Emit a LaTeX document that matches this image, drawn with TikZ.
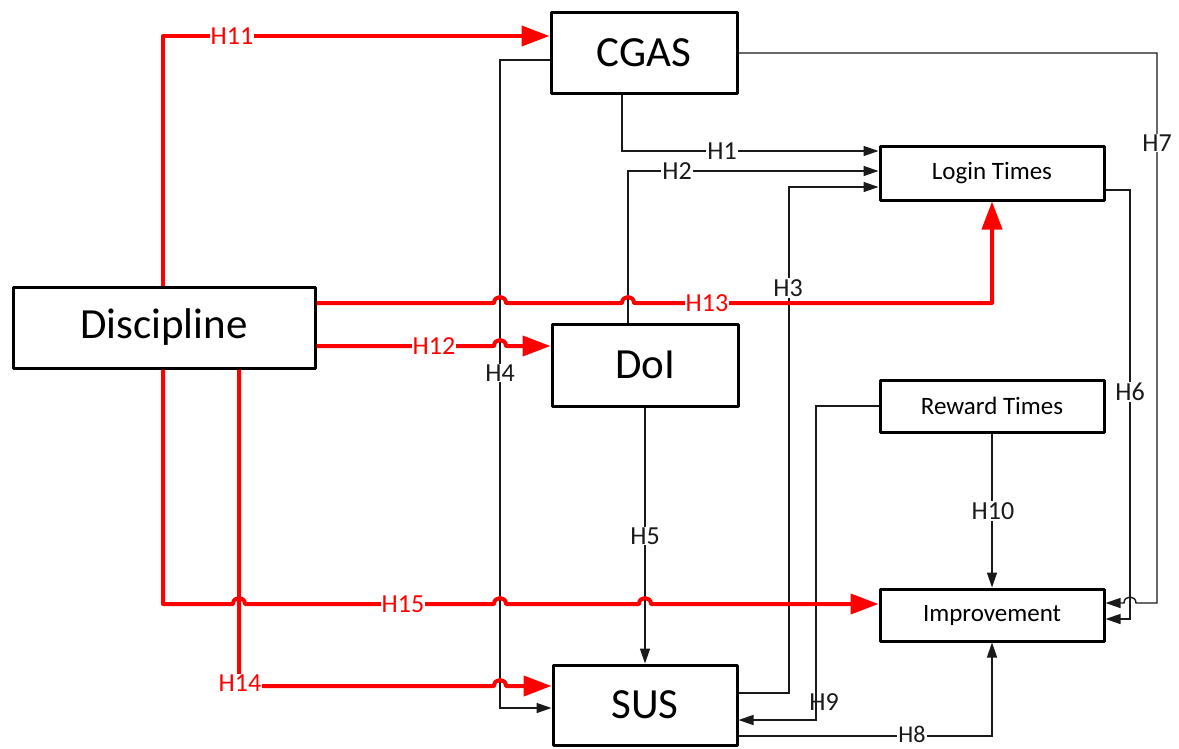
\documentclass[tikz,border=0pt]{standalone}
\usepackage{fontspec}
\setmainfont{Carlito}
\usetikzlibrary{arrows.meta}
\definecolor{lnk}{HTML}{1A1A1A}
\tikzset{
  box/.style={draw=black, line width=3pt, fill=white, rectangle, inner sep=0pt, line join=round},
  bigbox/.style={box, font=\fontsize{43}{50}\selectfont},
  smallbox/.style={box, font=\fontsize{25}{30}\selectfont},
  blk/.style={draw=lnk, line width=1.4pt, -{Triangle[length=15pt,width=10pt]}},
  redl/.style={draw=red, line width=4pt, line join=round, -{Triangle[length=28pt,width=20pt]}},
  lab/.style={font=\fontsize{26}{30}\selectfont, text=lnk, fill=white, inner sep=1pt},
  rlab/.style={font=\fontsize{26}{30}\selectfont, text=red, fill=white, inner sep=1pt},
}
\begin{document}
\begin{tikzpicture}[x=1pt, y=-1pt]
\useasboundingbox[fill=white] (0,0) rectangle (1179,748);
% nodes
\node[bigbox, minimum width=302pt, minimum height=81pt] (disc) at (164,327.5) {Discipline};
\node[bigbox, minimum width=186pt, minimum height=81pt] (cgas) at (644,52.5) {CGAS};
\node[bigbox, minimum width=186pt, minimum height=82pt] (doi) at (645,365) {DoI};
\node[bigbox, minimum width=184pt, minimum height=80pt] (sus) at (645,705) {SUS};
\node[smallbox, minimum width=224pt, minimum height=54pt] (login) at (992,173) {Login Times};
\node[smallbox, minimum width=224pt, minimum height=52pt] (reward) at (992,406) {Reward Times};
\node[smallbox, minimum width=224pt, minimum height=52pt] (impr) at (992,615) {Improvement};

% black connectors
\draw[blk] (cgas.south -| 622,0) |- (login.west |- 0,151);
\draw[blk] (doi.north -| 628,0) |- (login.west |- 0,171);
\draw[blk] (sus.east |- 0,693) -- (789,693) |- (login.west |- 0,187);
\draw[blk] (cgas.west |- 0,60) -- (500,60) |- (sus.west |- 0,708);
\draw[blk] (doi.south) -- (sus.north);
\draw[blk] (login.east |- 0,190) -- (1130,190) |- (impr.east |- 0,619);
\draw[blk] (cgas.east |- 0,53) -- (1157,53) -- (1157,603) -- (1136,603)
   .. controls (1136,595) and (1124,595) .. (1124,603) -- (impr.east |- 0,603);
\draw[blk] (sus.east |- 0,736) -| (impr.south);
\draw[blk] (reward.west) -- (816,406) |- (sus.east |- 0,720);
\draw[blk] (reward.south) -- (impr.north);

% red connectors
\draw[redl] (disc.north -| 163,0) |- (cgas.west |- 0,36);
\draw[redl] (disc.east |- 0,346) -- (494,346)
   .. controls (494,338) and (506,338) .. (506,346) -- (doi.west |- 0,346);
\draw[redl] (disc.east |- 0,303) -- (494,303)
   .. controls (494,295) and (506,295) .. (506,303) -- (622,303)
   .. controls (622,295) and (634,295) .. (634,303) -- (992,303) -- (login.south);
\draw[redl] (disc.south -| 239,0) -- (239,686) -- (494,686)
   .. controls (494,678) and (506,678) .. (506,686) -- (sus.west |- 0,686);
\draw[redl] (disc.south -| 163,0) -- (163,604) -- (233,604)
   .. controls (233,596) and (245,596) .. (245,604) -- (494,604)
   .. controls (494,596) and (506,596) .. (506,604) -- (639,604)
   .. controls (639,596) and (651,596) .. (651,604) -- (impr.west |- 0,604);

% labels
\node[lab] (h1) at (722,151) {H1};
\node[lab] (h2) at (677,171) {H2};
\node[lab] (h3) at (788,288) {H3};
\node[lab] (h4) at (500,373) {H4};
\node[lab] (h5) at (645,536) {H5};
\node[lab] (h6) at (1130,392) {H6};
\node[lab] (h7) at (1157,143) {H7};
\node[lab, font=\fontsize{24}{28}\selectfont, inner ysep=0pt] (h8) at (912,734) {H8};
\node[lab, fill=none] (h9) at (824,702) {H9};
\node[lab] (h10) at (993,511) {H10};
\node[rlab] (h11) at (232,36) {H11};
\node[rlab] (h12) at (434,346) {H12};
\node[rlab] (h13) at (707,303) {H13};
\node[rlab] (h14) at (240,683) {H14};
\node[rlab] (h15) at (403,604) {H15};
\end{tikzpicture}
\end{document}
